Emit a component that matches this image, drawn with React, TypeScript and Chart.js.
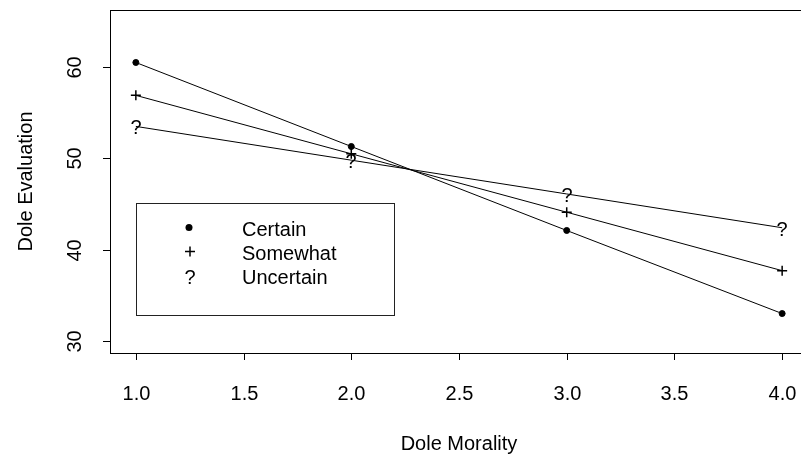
import React, { useEffect, useRef } from "react";
import { Chart, registerables } from "chart.js";

Chart.register(...registerables);

// ---- data ----
const xValues = [1, 2, 3, 4];
const certain = [60.5, 51.3, 42.1, 33.0];
const somewhat = [56.9, 50.5, 44.1, 37.7];
const uncertain = [53.5, 49.8, 46.1, 42.4];
const seriesNames = ["Certain", "Somewhat", "Uncertain"];
const xTicks = [1.0, 1.5, 2.0, 2.5, 3.0, 3.5, 4.0];
const yTicks = [30, 40, 50, 60];
const xTitle = "Dole Morality";
const yTitle = "Dole Evaluation";
const X_MIN = 0.88;
const X_MAX = 4.12;
const Y_MIN = 28.68;
const Y_MAX = 66.25;

const FONT = '20px "Liberation Sans", Arial, Helvetica, sans-serif';
const CANVAS_W = 820;
const CANVAS_H = 460;

const questionMarks = {
  id: "qMarks",
  afterDatasetsDraw(chart: any) {
    const { ctx } = chart;
    const meta = chart.getDatasetMeta(2);
    ctx.save();
    ctx.fillStyle = "#000";
    ctx.font = FONT;
    ctx.textAlign = "center";
    ctx.textBaseline = "alphabetic";
    meta.data.forEach((pt: any) => {
      ctx.fillText("?", Math.round(pt.x), Math.round(pt.y) + 8);
    });
    ctx.restore();
  },
};

const frame = {
  id: "rFrame",
  afterDraw(chart: any) {
    const { ctx, chartArea: a } = chart;
    const x = chart.scales.x;
    const y = chart.scales.y;
    ctx.save();
    ctx.strokeStyle = "#000";
    ctx.fillStyle = "#000";
    ctx.lineWidth = 1;
    ctx.strokeRect(Math.round(a.left) + 0.5, Math.round(a.top) + 0.5, a.right - a.left, a.bottom - a.top);
    ctx.font = FONT;
    ctx.textAlign = "center";
    ctx.textBaseline = "alphabetic";
    xTicks.forEach((v) => {
      const px = Math.round(x.getPixelForValue(v)) + 0.5;
      ctx.beginPath();
      ctx.moveTo(px, a.bottom);
      ctx.lineTo(px, a.bottom + 7);
      ctx.stroke();
      ctx.fillText(v.toFixed(1), px, a.bottom + 47);
    });
    ctx.fillText(xTitle, (a.left + a.right) / 2, a.bottom + 97);
    yTicks.forEach((v) => {
      const py = Math.round(y.getPixelForValue(v)) + 0.5;
      ctx.beginPath();
      ctx.moveTo(a.left - 7, py);
      ctx.lineTo(a.left, py);
      ctx.stroke();
      ctx.save();
      ctx.translate(a.left - 29, py);
      ctx.rotate(-Math.PI / 2);
      ctx.fillText(String(v), 0, 0);
      ctx.restore();
    });
    ctx.save();
    ctx.translate(a.left - 78, (a.top + a.bottom) / 2);
    ctx.rotate(-Math.PI / 2);
    ctx.fillText(yTitle, 0, 0);
    ctx.restore();

    // legend
    const lx = 136, ly = 203, lw = 258, lh = 112;
    ctx.lineWidth = 1;
    ctx.strokeStyle = "#222";
    ctx.strokeRect(lx + 0.5, ly + 0.5, lw, lh);
    const rows = [227.5, 251.5, 275.5];
    const symX = 190;
    const textX = 242;
    ctx.textAlign = "left";
    seriesNames.forEach((name, i) => {
      ctx.fillText(name, textX, rows[i] + 8);
    });
    ctx.beginPath();
    ctx.arc(symX - 1, rows[0], 3.5, 0, Math.PI * 2);
    ctx.fill();
    ctx.strokeStyle = "#000";
    ctx.lineWidth = 1.5;
    ctx.beginPath();
    ctx.moveTo(symX - 5, rows[1]);
    ctx.lineTo(symX + 5, rows[1]);
    ctx.moveTo(symX, rows[1] - 5);
    ctx.lineTo(symX, rows[1] + 5);
    ctx.stroke();
    ctx.textAlign = "center";
    ctx.fillText("?", symX, rows[2] + 8);
    ctx.restore();
  },
};

export default function App() {
  const ref = useRef<HTMLCanvasElement | null>(null);
  useEffect(() => {
    if (!ref.current) return;
    const toPts = (arr: number[]) => xValues.map((xv, i) => ({ x: xv, y: arr[i] }));
    const base = {
      borderColor: "#000",
      borderWidth: 1,
      backgroundColor: "#000",
      pointBackgroundColor: "#000",
      pointBorderColor: "#000",
      tension: 0,
      showLine: true,
      fill: false,
    };
    const chart = new Chart(ref.current, {
      type: "line",
      data: {
        datasets: [
          { ...base, label: seriesNames[0], data: toPts(certain), pointStyle: "circle", pointRadius: 3, pointBorderWidth: 1 },
          { ...base, label: seriesNames[1], data: toPts(somewhat), pointStyle: "cross", pointRadius: 5, pointBorderWidth: 1.5 },
          { ...base, label: seriesNames[2], data: toPts(uncertain), pointRadius: 0, pointBorderWidth: 0 },
        ],
      },
      options: {
        animation: false,
        responsive: false,
        events: [],
        layout: { padding: { left: 110, top: 10, right: CANVAS_W - 808, bottom: CANVAS_H - 353 } },
        plugins: { legend: { display: false }, tooltip: { enabled: false } },
        scales: {
          x: { type: "linear", min: X_MIN, max: X_MAX, display: false },
          y: { type: "linear", min: Y_MIN, max: Y_MAX, display: false },
        },
      },
      plugins: [questionMarks, frame],
    });
    return () => chart.destroy();
  }, []);
  return (
    <div style={{ position: "fixed", left: 0, top: 0, width: 801, height: 460, overflow: "hidden", background: "#fff" }}>
      <canvas ref={ref} width={CANVAS_W} height={CANVAS_H} style={{ width: CANVAS_W, height: CANVAS_H, display: "block" }} />
    </div>
  );
}
